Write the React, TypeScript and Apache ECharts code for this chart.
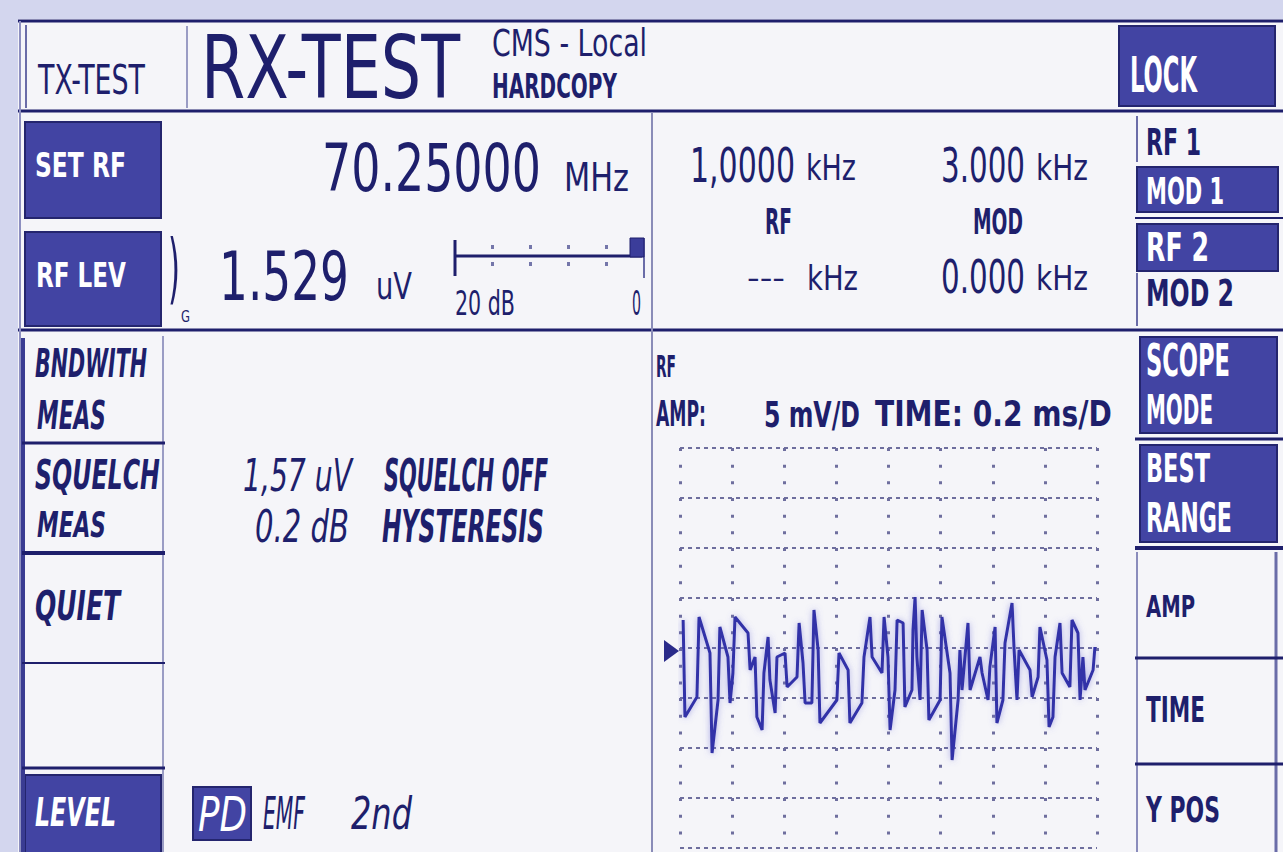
import React, { useEffect, useRef } from "react";
import * as echarts from "echarts";

// ---- Scope trace data (time in ms, amplitude in mV) ----
const TRACE_T = [
  0.012, 0.019, 0.065, 0.073, 0.115, 0.123, 0.146, 0.153, 0.184, 0.192,
  0.203, 0.211, 0.261, 0.269, 0.288, 0.295, 0.315, 0.322, 0.338, 0.345,
  0.365, 0.372, 0.403, 0.411, 0.449, 0.457, 0.472, 0.48, 0.506, 0.514,
  0.53, 0.537, 0.602, 0.61, 0.645, 0.652, 0.698, 0.706, 0.729, 0.737,
  0.775, 0.783, 0.798, 0.806, 0.825, 0.833, 0.856, 0.863, 0.89, 0.894,
  0.902, 0.909, 0.921, 0.929, 0.948, 0.955, 0.998, 1.005, 1.036, 1.044,
  1.067, 1.074, 1.082, 1.105, 1.113, 1.151, 1.159, 1.182, 1.189, 1.209,
  1.216, 1.239, 1.247, 1.274, 1.282, 1.293, 1.301, 1.343, 1.351, 1.374,
  1.381, 1.408, 1.416, 1.431, 1.439, 1.458, 1.466, 1.496, 1.504, 1.527,
  1.535, 1.546, 1.554, 1.585, 1.592,
];
const TRACE_MV = [
  2.8, -6.9, -4.9, 3.1, -0.5, -10.5, -5.2, 2.1, -0.9, -5.5,
  -2.5, 3.1, 1.5, -2.2, -0.9, -6.9, -8.2, -2.5, 1.1, -3.2,
  -6.5, -0.9, -0.5, -3.9, -2.9, 2.5, -1.5, -5.5, -5.5, 3.8,
  -0.2, -7.5, -5.2, -0.5, -2.2, -7.5, -5.5, -0.9, 3.1, -0.9,
  -2.5, 3.1, -0.9, -8.2, -4.2, 2.8, 2.5, -5.9, -4.2, 1.8,
  5.1, -0.9, -5.2, 3.8, -0.2, -7.2, -5.2, 3.1, -2.5, -11.2,
  -5.2, -0.2, -4.2, 2.5, -4.2, -0.9, -2.5, -5.2, -1.9, 2.1,
  -7.5, -5.2, 0.5, 4.5, -0.2, -5.2, -0.2, -2.2, -4.9, -2.9,
  2.1, -1.2, -7.9, -6.9, -0.9, 2.5, -2.5, -3.9, 2.8, 1.5,
  -5.2, -0.9, -4.2, -2.2, 0.1,
];

// Scope axes: 8 divisions, 0.2 ms/div and 5 mV/div
const TIME_MIN = 0;
const TIME_MAX = 1.6;
const TIME_DIV = 0.2;
const AMP_MIN = -20;
const AMP_MAX = 20;
const AMP_DIV = 5;

// Screen texts
const TITLE = "RX-TEST";
const SUBTITLE = ["CMS - Local", "HARDCOPY"];
const RF_FREQ = "70.25000";
const RF_LEVEL = "1.529";
const AF_VALUES = ["1,0000", "3.000", "---", "0.000"];
const SQUELCH_LINES = [
  ["1,57 uV", "SQUELCH OFF"],
  ["0.2 dB", "HYSTERESIS"],
];
const SCOPE_INFO = ["AMP:", "5 mV/D", "TIME: 0.2 ms/D"];

const NAVY = "#1e1f6c";
const BTN = "#4244a3";
const BTN_EDGE = "#24256e";
const PANEL = "#f5f5f9";
const LAV = "#d3d6ee";
const GRIDC = "#6e6e9e";
const FONT = '"DejaVu Sans Condensed", "DejaVu Sans", sans-serif';

let measureCtx: CanvasRenderingContext2D | null = null;
function measure(text: string, font: string): number {
  if (!measureCtx) measureCtx = document.createElement("canvas").getContext("2d");
  measureCtx!.font = font;
  return measureCtx!.measureText(text).width || 1;
}

// text fitted to a box: left x0, right x1, cap top y0, baseline y1
function T(
  text: string,
  x0: number,
  x1: number,
  y0: number,
  y1: number,
  opt: { color?: string; bold?: boolean; italic?: boolean; z?: number } = {}
) {
  const size = Math.max(6, (y1 - y0) / 0.73);
  const weight = opt.bold ? "bold" : "normal";
  const style = opt.italic ? "italic" : "normal";
  const font = `${style} ${weight} ${size}px ${FONT}`;
  const w = measure(text, font);
  const sx = (x1 - x0) / w;
  return {
    type: "text",
    x: x0,
    y: (y0 + y1) / 2,
    scaleX: sx,
    z: opt.z ?? 20,
    silent: true,
    style: {
      text,
      fill: opt.color ?? NAVY,
      fontSize: size,
      fontFamily: FONT,
      fontWeight: weight,
      fontStyle: style,
      align: "left",
      verticalAlign: "middle",
      textAlign: "left",
      textVerticalAlign: "middle",
    },
  };
}

function R(x: number, y: number, w: number, h: number, fill: string, stroke?: string, lw = 0, z = 1) {
  return {
    type: "rect",
    z,
    silent: true,
    shape: { x, y, width: w, height: h },
    style: { fill, stroke: stroke ?? null, lineWidth: lw },
  };
}

function L(x1: number, y1: number, x2: number, y2: number, color: string, lw: number, z = 5) {
  return {
    type: "line",
    z,
    silent: true,
    shape: { x1, y1, x2, y2 },
    style: { stroke: color, lineWidth: lw },
  };
}

function darkBtn(x: number, y: number, w: number, h: number) {
  return R(x, y, w, h, BTN, BTN_EDGE, 2, 3);
}

function buildGraphics(): any[] {
  const g: any[] = [];
  // outer lavender margins
  g.push(R(0, 0, 1283, 19, LAV, undefined, 0, 0));
  g.push(R(0, 0, 18, 852, LAV, undefined, 0, 0));

  // frame lines
  g.push(L(18, 21, 1283, 21, NAVY, 3));
  g.push(L(18, 111, 1283, 111, NAVY, 3));
  g.push(L(18, 330, 1283, 330, NAVY, 3));
  g.push(L(20, 21, 20, 852, "#8d8fc0", 2));
  g.push(L(26, 25, 26, 108, "#6a6ca8", 2));
  g.push(L(187, 26, 187, 108, "#9a9cc4", 2));
  g.push(L(652, 113, 652, 852, "#8a8cb8", 2));

  // top bar
  g.push(T("TX-TEST", 38, 145, 65, 95));
  g.push(T(TITLE, 201, 460, 36, 100));
  g.push(T(SUBTITLE[0], 492, 647, 30, 57));
  g.push(T(SUBTITLE[1], 492, 617, 74, 99, { bold: true }));
  g.push(darkBtn(1119, 26, 156, 80));
  g.push(T("LOCK", 1130, 1197, 57, 93, { color: "#ffffff", bold: true }));

  // left buttons (row 2)
  g.push(darkBtn(25, 122, 136, 96));
  g.push(T("SET RF", 35, 126, 153, 178, { color: "#ffffff", bold: true }));
  g.push(darkBtn(25, 232, 136, 94));
  g.push(T("RF LEV", 36, 126, 263, 288, { color: "#ffffff", bold: true }));
  g.push(T(")", 168, 180, 240, 296));
  g.push(T("G", 181, 190, 311, 322));

  // RF frequency and level
  g.push(T(RF_FREQ, 322, 541, 144, 192));
  g.push(T("MHz", 564, 629, 164, 192));
  g.push(T(RF_LEVEL, 219, 349, 252, 301));
  g.push(T("uV", 376, 412, 273, 300));

  // attenuation scale
  g.push(L(455, 240, 455, 276, NAVY, 3));
  g.push(L(455, 256, 642, 256, NAVY, 3));
  g.push(R(630, 238, 14, 19, "#3b3d9a", NAVY, 1, 6));
  g.push(L(644, 238, 644, 278, "#6a6ca8", 2));
  for (const dx of [492, 530, 568, 606]) {
    g.push(R(dx - 1, 245, 3, 4, "#7476aa", undefined, 0, 6));
    g.push(R(dx - 1, 262, 3, 4, "#7476aa", undefined, 0, 6));
  }
  g.push(T("20 dB", 455, 515, 292, 316));
  g.push(T("0", 632, 641, 292, 316));

  // AF generator values
  g.push(T(AF_VALUES[0], 690, 795, 148, 183));
  g.push(T("kHz", 806, 856, 155, 181));
  g.push(T(AF_VALUES[1], 941, 1025, 148, 183));
  g.push(T("kHz", 1036, 1088, 155, 181));
  g.push(T("RF", 765, 792, 209, 235, { bold: true }));
  g.push(T("MOD", 973, 1023, 209, 235, { bold: true }));
  g.push(T(AF_VALUES[2], 747, 785, 272, 284, { bold: true }));
  g.push(T("kHz", 807, 858, 266, 291));
  g.push(T(AF_VALUES[3], 941, 1025, 260, 294));
  g.push(T("kHz", 1036, 1088, 266, 291));

  // right column row 2
  g.push(L(1137, 116, 1137, 162, "#6a6ca8", 2));
  g.push(T("RF 1", 1146, 1201, 129, 156, { bold: true }));
  g.push(darkBtn(1137, 167, 141, 45));
  g.push(T("MOD 1", 1146, 1224, 177, 204, { color: "#ffffff", bold: true }));
  g.push(L(1135, 218, 1283, 218, NAVY, 2));
  g.push(darkBtn(1137, 224, 141, 47));
  g.push(T("RF 2", 1146, 1209, 234, 262, { color: "#ffffff", bold: true }));
  g.push(L(1137, 273, 1137, 326, "#6a6ca8", 2));
  g.push(T("MOD 2", 1146, 1234, 280, 307, { bold: true }));

  // left column row 3
  g.push(L(23, 338, 23, 852, "#3a3c92", 4));
  g.push(L(163, 336, 163, 852, "#9a9cc4", 2));
  g.push(T("BNDWITH", 35, 147, 350, 378, { italic: true, bold: true }));
  g.push(T("MEAS", 37, 106, 402, 430, { italic: true, bold: true }));
  g.push(L(22, 443, 165, 443, NAVY, 3));
  g.push(T("SQUELCH", 35, 160, 460, 490, { italic: true, bold: true }));
  g.push(T("MEAS", 37, 106, 512, 538, { italic: true, bold: true }));
  g.push(L(22, 553, 165, 553, NAVY, 4));
  g.push(T("QUIET", 35, 120, 590, 620, { italic: true, bold: true }));
  g.push(L(22, 663, 165, 663, NAVY, 2));
  g.push(L(22, 768, 165, 768, NAVY, 3));
  g.push(darkBtn(25, 775, 136, 80));
  g.push(T("LEVEL", 35, 116, 798, 827, { color: "#ffffff", italic: true, bold: true }));

  // squelch info
  g.push(T(SQUELCH_LINES[0][0], 243, 352, 459, 492, { italic: true }));
  g.push(T(SQUELCH_LINES[0][1], 384, 548, 459, 492, { italic: true, bold: true }));
  g.push(T(SQUELCH_LINES[1][0], 255, 349, 511, 543, { italic: true }));
  g.push(T(SQUELCH_LINES[1][1], 382, 544, 511, 543, { italic: true, bold: true }));

  // PD / EMF / 2nd
  g.push(darkBtn(193, 787, 58, 53));
  g.push(T("PD", 198, 247, 797, 832, { color: "#ffffff", italic: true }));
  g.push(T("EMF", 263, 305, 798, 830, { italic: true }));
  g.push(T("2nd", 351, 412, 798, 830, { italic: true }));

  // scope header
  g.push(T("RF", 656, 676, 356, 378, { bold: true }));
  g.push(T(SCOPE_INFO[0], 656, 706, 401, 427, { bold: true }));
  g.push(T(SCOPE_INFO[1], 764, 860, 401, 427, { bold: true }));
  g.push(T(SCOPE_INFO[2], 875, 1112, 401, 427, { bold: true }));
  // trace start marker
  g.push({
    type: "polygon",
    z: 30,
    silent: true,
    shape: { points: [[664, 640], [679, 651], [664, 662]] },
    style: { fill: "#2a2b8a" },
  });

  // right column row 3
  g.push(darkBtn(1140, 337, 137, 96));
  g.push(T("SCOPE", 1146, 1230, 345, 377, { color: "#ffffff", bold: true }));
  g.push(T("MODE", 1146, 1213, 395, 425, { color: "#ffffff", bold: true }));
  g.push(L(1135, 439, 1283, 439, NAVY, 3));
  g.push(darkBtn(1140, 445, 137, 97));
  g.push(T("BEST", 1146, 1210, 455, 483, { color: "#ffffff", bold: true }));
  g.push(T("RANGE", 1146, 1232, 503, 533, { color: "#ffffff", bold: true }));
  g.push(L(1135, 548, 1283, 548, NAVY, 4));
  g.push(L(1137, 552, 1137, 852, "#8a8cbc", 2));
  g.push(L(1276, 552, 1276, 852, "#6a6ca8", 3));
  g.push(T("AMP", 1146, 1195, 596, 618, { bold: true }));
  g.push(L(1135, 658, 1283, 658, NAVY, 3));
  g.push(T("TIME", 1146, 1205, 697, 723, { bold: true }));
  g.push(L(1135, 764, 1283, 764, NAVY, 3));
  g.push(T("Y POS", 1146, 1220, 797, 823, { bold: true }));

  return g;
}

export default function App() {
  const ref = useRef<HTMLDivElement>(null);

  useEffect(() => {
    document.body.style.margin = "0";
    const chart = echarts.init(ref.current!, undefined, { renderer: "svg" });
    const data = TRACE_T.map((t, i) => [t, TRACE_MV[i]]);
    chart.setOption({
      animation: false,
      backgroundColor: PANEL,
      grid: { left: 680, top: 448, width: 417, height: 400, containLabel: false },
      xAxis: {
        type: "value",
        min: TIME_MIN,
        max: TIME_MAX,
        interval: TIME_DIV,
        axisLine: { show: false },
        axisTick: { show: false },
        axisLabel: { show: false },
        splitLine: {
          show: true,
          lineStyle: { color: GRIDC, width: 3, type: [3, 13.67] },
        },
      },
      yAxis: {
        type: "value",
        min: AMP_MIN,
        max: AMP_MAX,
        interval: AMP_DIV,
        axisLine: { show: false },
        axisTick: { show: false },
        axisLabel: { show: false },
        splitLine: {
          show: true,
          lineStyle: { color: GRIDC, width: 2, type: [4, 4] },
        },
      },
      series: [
        {
          type: "line",
          data,
          showSymbol: false,
          symbol: "none",
          z: 5,
          lineStyle: {
            color: "#3333a8",
            width: 3,
            shadowColor: "rgba(100,100,210,0.55)",
            shadowBlur: 6,
          },
        },
      ],
      graphic: { elements: buildGraphics() },
    });
    return () => chart.dispose();
  }, []);

  return (
    <div
      ref={ref}
      style={{ position: "fixed", left: 0, top: 0, width: 1283, height: 852 }}
    />
  );
}
